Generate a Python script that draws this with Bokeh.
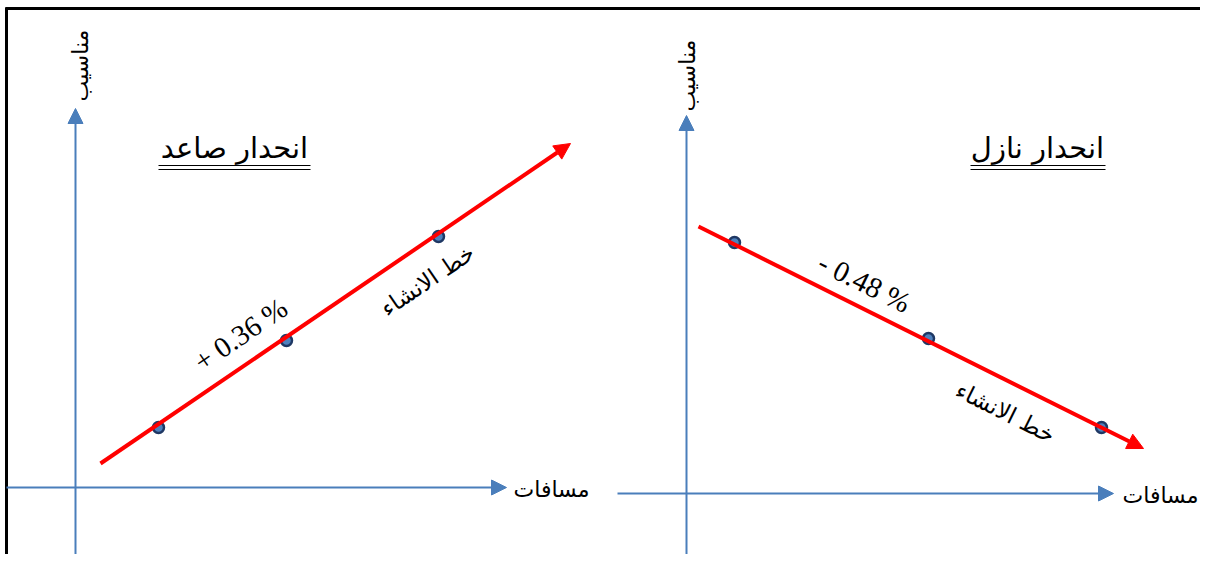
import math
from bokeh.plotting import figure
from bokeh.models import Range1d, Arrow, NormalHead
from bokeh.core.properties import value
from bokeh.embed import file_html
from bokeh.resources import INLINE

# ---- data (drawing coordinates) ----
titles = ["انحدار صاعد", "انحدار نازل"]
title_x = [234, 1037]
title_y = [147, 147]

y_axis_label = "مناسيب"
x_axis_label = "مسافات"
grade_line_label = "خط الانشاء"

slope_labels = ["+ 0.36 %", "- 0.48 %"]

rise_line_x = [100, 570]
rise_line_y = [463, 143]
rise_pts_x = [158, 286, 438]
rise_pts_y = [427, 340, 236]

fall_line_x = [698, 1143]
fall_line_y = [226, 448]
fall_pts_x = [734, 928, 1101]
fall_pts_y = [242, 338, 427]

# axes of each panel: (x_start, y_start, x_end, y_end)
left_vaxis = [75, 560, 75, 108]
left_haxis = [6, 487, 506, 487]
right_vaxis = [686, 560, 686, 115]
right_haxis = [617, 493, 1113, 493]

AX_BLUE = "#4A7EBB"
RED = "#FF0000"
ARABIC = value("DejaVu Sans")
SERIF = value("Liberation Serif")

p = figure(width=1200, height=554, output_backend="svg", toolbar_location=None,
           x_range=Range1d(0, 1200), y_range=Range1d(554, 0),
           min_border=0, outline_line_color=None, background_fill_color="white")
p.axis.visible = False
p.grid.visible = False

# border (top and left)
p.segment(x0=[5], y0=[8], x1=[1200], y1=[8], line_color="black", line_width=3)
p.segment(x0=[6], y0=[7], x1=[6], y1=[554], line_color="black", line_width=3)

# blue axes with arrows
for ax in [left_vaxis, left_haxis, right_vaxis, right_haxis]:
    p.add_layout(Arrow(x_start=ax[0], y_start=ax[1], x_end=ax[2], y_end=ax[3],
                       line_color=AX_BLUE, line_width=2,
                       end=NormalHead(size=15, fill_color=AX_BLUE, line_color=AX_BLUE, line_width=1)))

# red grade lines with arrows
for lx, ly in [(rise_line_x, rise_line_y), (fall_line_x, fall_line_y)]:
    p.add_layout(Arrow(x_start=lx[0], y_start=ly[0], x_end=lx[1], y_end=ly[1],
                       line_color=RED, line_width=4,
                       end=NormalHead(size=16, fill_color=RED, line_color=RED, line_width=1)))

# points
p.scatter(rise_pts_x + fall_pts_x, rise_pts_y + fall_pts_y, size=11,
          fill_color="#4F81BD", line_color="#1F3864", line_width=2.5)

def screen_angle(lx, ly):
    return math.atan2(ly[0] - ly[1], lx[1] - lx[0])

a_rise = screen_angle(rise_line_x, rise_line_y)
a_fall = screen_angle(fall_line_x, fall_line_y)

# slope labels
p.text(x=[240, 864], y=[334, 282], text=slope_labels, angle=[a_rise, a_fall],
       text_font=SERIF, text_font_size="29px", text_align="center",
       text_baseline="middle", text_color="black")

# grade line labels
p.text(x=[427, 1005], y=[280, 412], text=[grade_line_label] * 2, angle=[a_rise, a_fall],
       text_font=ARABIC, text_font_size="23px", text_align="center",
       text_baseline="middle", text_color="black")

# titles
p.text(x=title_x, y=title_y, text=titles, text_font=ARABIC, text_font_size="29px",
       text_align="center", text_baseline="middle", text_color="black")
# double underline
p.segment(x0=[158, 158, 970, 970], y0=[165, 169, 165, 169],
          x1=[310, 310, 1105, 1105], y1=[165, 169, 165, 169],
          line_color="black", line_width=1.2)

# axis labels
p.text(x=[551, 1160], y=[489, 495], text=[x_axis_label] * 2, text_font=ARABIC,
       text_font_size="22px", text_align="center", text_baseline="middle", text_color="black")
p.text(x=[80, 687], y=[65, 75], text=[y_axis_label] * 2, angle=[math.pi / 2] * 2,
       text_font=ARABIC, text_font_size="22px", text_align="center",
       text_baseline="middle", text_color="black")

open("out.html", "w").write(file_html(p, INLINE))
